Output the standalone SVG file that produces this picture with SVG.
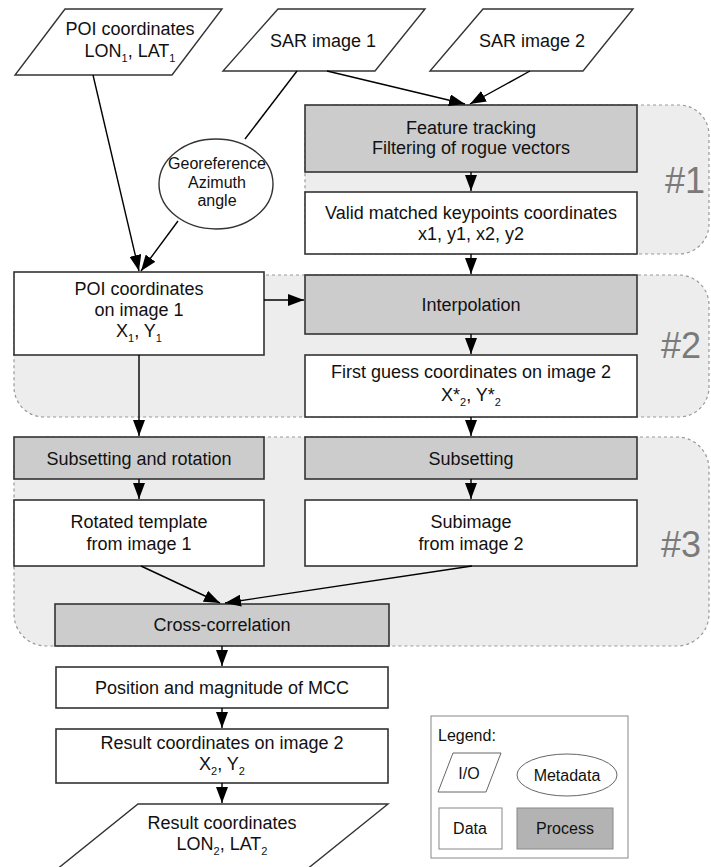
<svg xmlns="http://www.w3.org/2000/svg" width="711" height="867" viewBox="0 0 711 867">
<defs>
<marker id="arr" markerUnits="userSpaceOnUse" markerWidth="16" markerHeight="12" refX="16" refY="6" orient="auto">
<path d="M0,0 L16,6 L0,12 z" fill="#000"/>
</marker>
<style>
text{font-family:"Liberation Sans",Arial,sans-serif;fill:#111;}
.t{font-size:18px;text-anchor:middle;}
.s{font-size:16px;text-anchor:middle;}
.sub{font-size:11px;}
.grp{fill:#ededed;stroke:#999;stroke-width:1.2;stroke-dasharray:3,3;}
.num{font-size:36px;fill:#7a7a7a;text-anchor:middle;}
.data{fill:#fff;stroke:#333;stroke-width:1.6;}
.proc{fill:#cccccc;stroke:#333;stroke-width:1.6;}
.io{fill:#fff;stroke:#333;stroke-width:1.4;}
.con line{stroke:#000;stroke-width:1.4;}
.arr{marker-end:url(#arr);}
</style>
</defs>
<rect width="711" height="867" fill="#fff"/>

<g id="group1"><rect class="grp" x="305" y="105" width="404" height="149" rx="30"/><text class="num" x="685" y="193">#1</text></g>
<g id="group2"><rect class="grp" x="14" y="275" width="695" height="142" rx="30"/><text class="num" x="681" y="358">#2</text></g>
<g id="group3"><rect class="grp" x="14" y="437" width="695" height="209" rx="32"/><text class="num" x="681" y="557">#3</text></g>

<g id="poi-input"><polygon class="io" points="65,9 222,9 172,75 15,75"/>
<text class="t" x="130" y="35">POI coordinates</text>
<text class="t" x="130" y="57">LON<tspan class="sub" dy="5">1</tspan><tspan dy="-5">, LAT</tspan><tspan class="sub" dy="5">1</tspan></text></g>

<g id="sar1"><polygon class="io" points="278,9 425,9 375,71 223,71"/><text class="t" x="323" y="47">SAR image 1</text></g>
<g id="sar2"><polygon class="io" points="483,9 633,9 583,71 430,71"/><text class="t" x="532" y="47">SAR image 2</text></g>

<g id="georef"><ellipse cx="216" cy="184" rx="57" ry="45" fill="#fff" stroke="#333" stroke-width="1.4"/>
<text class="s" x="217" y="169">Georeference</text><text class="s" x="217" y="188">Azimuth</text><text class="s" x="217" y="206">angle</text></g>

<g id="feature-tracking"><rect class="proc" x="305" y="105" width="332" height="67"/>
<text class="t" x="471" y="134">Feature tracking</text><text class="t" x="471" y="154">Filtering of rogue vectors</text></g>

<g id="keypoints"><rect class="data" x="305" y="192" width="332" height="62"/>
<text class="t" x="471" y="219">Valid matched keypoints coordinates</text><text class="t" x="471" y="240">x1, y1, x2, y2</text></g>

<g id="poi-image1"><rect class="data" x="14" y="272" width="250" height="83"/>
<text class="t" x="139" y="295">POI coordinates</text><text class="t" x="139" y="316">on image 1</text>
<text class="t" x="139" y="337">X<tspan class="sub" dy="5">1</tspan><tspan dy="-5">, Y</tspan><tspan class="sub" dy="5">1</tspan></text></g>

<g id="interpolation"><rect class="proc" x="305" y="275" width="332" height="59"/><text class="t" x="471" y="311">Interpolation</text></g>

<g id="first-guess"><rect class="data" x="305" y="355" width="332" height="62"/>
<text class="t" x="471" y="378">First guess coordinates on image 2</text>
<text class="t" x="471" y="401">X*<tspan class="sub" dy="5">2</tspan><tspan dy="-5">, Y*</tspan><tspan class="sub" dy="5">2</tspan></text></g>

<g id="subset-rot"><rect class="proc" x="14" y="437" width="250" height="42"/><text class="t" x="139" y="465">Subsetting and rotation</text></g>
<g id="subset"><rect class="proc" x="305" y="437" width="332" height="42"/><text class="t" x="471" y="465">Subsetting</text></g>

<g id="template"><rect class="data" x="14" y="500" width="250" height="66"/>
<text class="t" x="139" y="528">Rotated template</text><text class="t" x="139" y="550">from image 1</text></g>
<g id="subimage"><rect class="data" x="305" y="500" width="332" height="66"/>
<text class="t" x="471" y="528">Subimage</text><text class="t" x="471" y="550">from image 2</text></g>

<g id="crosscorr"><rect class="proc" x="55" y="604" width="334" height="42"/><text class="t" x="222" y="631">Cross-correlation</text></g>

<g id="mcc"><rect class="data" x="56" y="667" width="332" height="41"/><text class="t" x="222" y="694">Position and magnitude of MCC</text></g>

<g id="result-image2"><rect class="data" x="56" y="729" width="332" height="54"/>
<text class="t" x="222" y="749">Result coordinates on image 2</text>
<text class="t" x="222" y="770">X<tspan class="sub" dy="5">2</tspan><tspan dy="-5">, Y</tspan><tspan class="sub" dy="5">2</tspan></text></g>

<g id="result-output"><polygon class="io" points="138,804 388,804 306,870 56,870"/>
<text class="t" x="222" y="829">Result coordinates</text>
<text class="t" x="222" y="850">LON<tspan class="sub" dy="5">2</tspan><tspan dy="-5">, LAT</tspan><tspan class="sub" dy="5">2</tspan></text></g>

<g id="legend">
<rect x="431" y="716" width="197" height="142" fill="#fff" stroke="#888" stroke-width="1"/>
<text x="438" y="741" style="font-size:16px">Legend:</text>
<polygon points="453,753 501,753 486,792 438,792" fill="#fff" stroke="#666" stroke-width="1"/>
<text class="s" x="469" y="779">I/O</text>
<ellipse cx="567" cy="775" rx="50" ry="21" fill="#fff" stroke="#666" stroke-width="1"/>
<text class="s" x="567" y="781">Metadata</text>
<rect x="439" y="808" width="63" height="41" fill="#fff" stroke="#888" stroke-width="1"/>
<text class="s" x="470" y="834">Data</text>
<rect x="517" y="808" width="96" height="41" fill="#b3b3b3" stroke="#888" stroke-width="1"/>
<text class="s" x="565" y="834">Process</text>
</g>

<g id="connectors" class="con">
<line class="arr" x1="93" y1="75" x2="139" y2="271"/>
<line x1="297" y1="71" x2="245" y2="139"/>
<line class="arr" x1="178" y1="221" x2="141" y2="271"/>
<line class="arr" x1="327" y1="71" x2="465" y2="104"/>
<line class="arr" x1="530" y1="71" x2="470" y2="104"/>
<line class="arr" x1="471" y1="172" x2="471" y2="191"/>
<line class="arr" x1="471" y1="254" x2="471" y2="274"/>
<line class="arr" x1="264" y1="300" x2="304" y2="300"/>
<line class="arr" x1="471" y1="334" x2="471" y2="354"/>
<line class="arr" x1="471" y1="417" x2="471" y2="436"/>
<line class="arr" x1="139" y1="355" x2="139" y2="436"/>
<line class="arr" x1="139" y1="479" x2="139" y2="499"/>
<line class="arr" x1="471" y1="479" x2="471" y2="499"/>
<line class="arr" x1="141" y1="566" x2="220" y2="603"/>
<line class="arr" x1="472" y1="566" x2="225" y2="603"/>
<line class="arr" x1="222" y1="646" x2="222" y2="666"/>
<line class="arr" x1="222" y1="708" x2="222" y2="728"/>
<line class="arr" x1="222" y1="783" x2="222" y2="803"/>
</g>
</svg>
